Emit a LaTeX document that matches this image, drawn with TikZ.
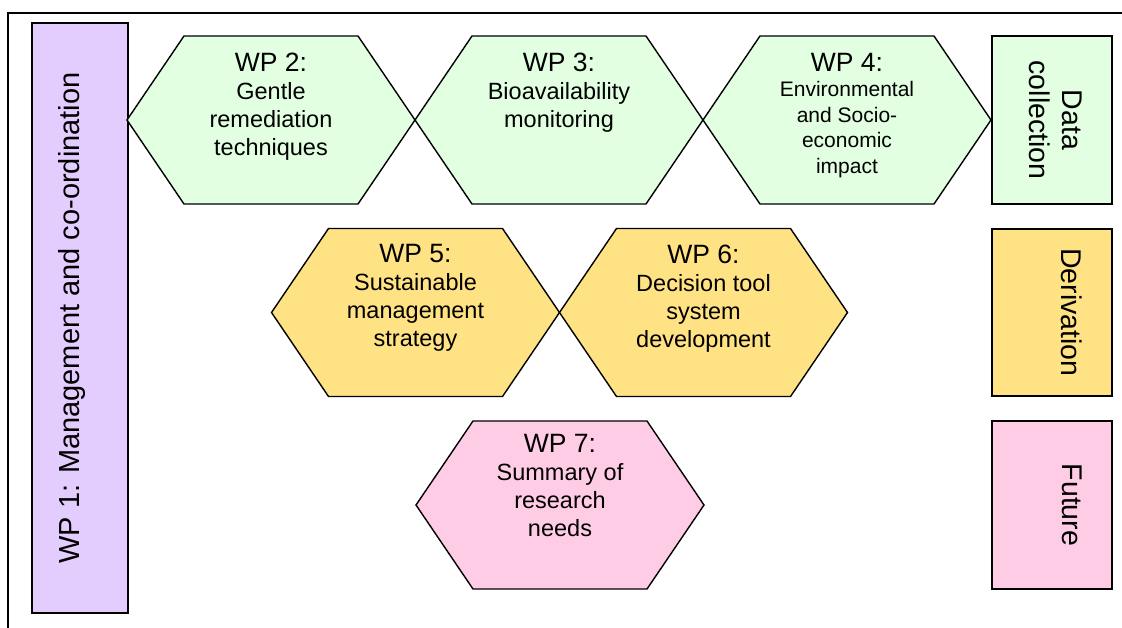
\documentclass[tikz,border=0pt]{standalone}
\usepackage{fontspec}
\setmainfont{Liberation Sans}
\definecolor{wpgreen}{RGB}{226,255,226}
\definecolor{wpyellow}{RGB}{255,226,132}
\definecolor{wppink}{RGB}{255,204,230}
\definecolor{wppurple}{RGB}{227,205,255}
\begin{document}
\begin{tikzpicture}[x=1pt,y=-1pt,line join=miter]
\useasboundingbox (0,0) rectangle (1122,628);
\tikzset{
  hexline/.style={draw=black,line width=1.4pt},
  boxline/.style={draw=black,line width=1.8pt},
  hextext/.style={anchor=north,align=center,inner sep=0pt,font=\fontsize{23.5}{28}\selectfont},
  sidetext/.style={anchor=north,align=center,inner sep=0pt,font=\fontsize{28.5}{33}\selectfont},
}
\newcommand\wphex[3]{%
  \filldraw[hexline,fill=#3] (#1-144,#2) -- (#1-87,#2-84) -- (#1+87,#2-84) -- (#1+144,#2) -- (#1+87,#2+84) -- (#1-87,#2+84) -- cycle;}
\newcommand\wptitle[1]{{\fontsize{26.5}{28}\selectfont #1}}
% frame
\draw[line width=1.8pt] (8,628) -- (8,13) -- (1122,13);
% WP1 box
\filldraw[boxline,fill=wppurple] (32,23) rectangle (128,613);
\node[sidetext,rotate=90,font=\fontsize{29}{33}\selectfont] (wp1) at (58.2,318) {WP 1: Management and co-ordination};
% row 1
\wphex{271}{120}{wpgreen}
\wphex{559}{120}{wpgreen}
\wphex{847}{120}{wpgreen}
\node[hextext] (wp2) at (271,53) {\wptitle{WP 2:}\\Gentle\\remediation\\techniques};
\node[hextext] (wp3) at (559,53) {\wptitle{WP 3:}\\Bioavailability\\monitoring};
\node[hextext,font=\fontsize{21}{25.5}\selectfont] (wp4) at (847,53) {\wptitle{WP 4:}\\Environmental\\and Socio-\\economic\\impact};
% row 2
\wphex{415.5}{312.5}{wpyellow}
\wphex{703.5}{312.5}{wpyellow}
\node[hextext] (wp5) at (415.5,244.5) {\wptitle{WP 5:}\\Sustainable\\management\\strategy};
\node[hextext] (wp6) at (703.5,244.5) {\wptitle{WP 6:}\\Decision tool\\system\\development};
% row 3
\wphex{560}{505}{wppink}
\node[hextext] (wp7) at (560,434.5) {\wptitle{WP 7:}\\Summary of\\research\\needs};
% side boxes
\filldraw[boxline,fill=wpgreen] (992,36) rectangle (1112,204);
\filldraw[boxline,fill=wpyellow] (992,229) rectangle (1112,396);
\filldraw[boxline,fill=wppink] (992,421) rectangle (1112,589);
\node[sidetext,rotate=-90] (dc) at (1082.5,120) {Data\\collection};
\node[sidetext,rotate=-90] (der) at (1082.5,312.5) {Derivation};
\node[sidetext,rotate=-90] (fut) at (1082.5,505) {Future};
\end{tikzpicture}
\end{document}
